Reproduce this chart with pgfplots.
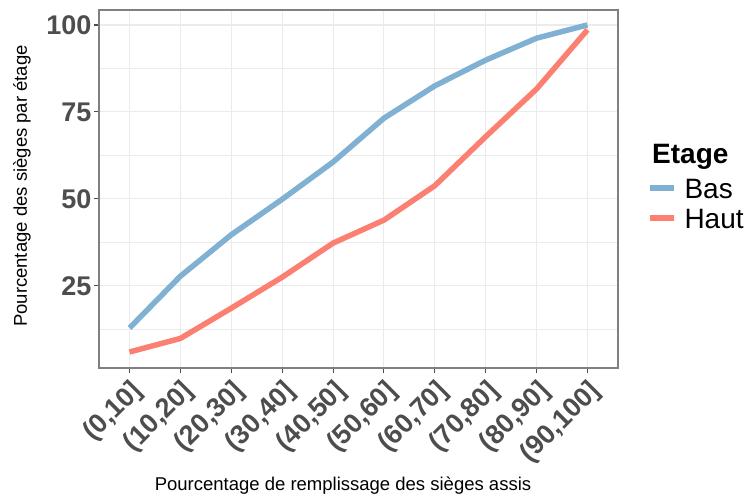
\documentclass[border=0pt]{standalone}
\usepackage{pgfplots}
\pgfplotsset{compat=1.18}
\usepackage{fontspec}
\setmainfont{Liberation Sans}
\definecolor{cBas}{HTML}{80B1D3}
\definecolor{cHaut}{HTML}{FB8072}
\definecolor{tickc}{HTML}{4D4D4D}
\definecolor{gridc}{HTML}{EBEBEB}
\definecolor{borderc}{HTML}{808080}
\begin{document}
\begin{tikzpicture}[x=1pt,y=1pt]
\useasboundingbox (0,0) rectangle (747,497);
\begin{axis}[
  at={(99pt,129pt)}, anchor=south west,
  scale only axis, width=519pt, height=358pt,
  xmin=-0.6, xmax=9.6, ymin=1.4, ymax=104.3,
  xtick={0,1,2,3,4,5,6,7,8,9},
  xticklabels={{(0,10]},{(10,20]},{(20,30]},{(30,40]},{(40,50]},{(50,60]},{(60,70]},{(70,80]},{(80,90]},{(90,100]}},
  ytick={25,50,75,100},
  yticklabels={25,50,75,100},
  minor ytick={12.5,37.5,62.5,87.5},
  grid=both,
  major grid style={draw=gridc, line width=1.1pt},
  minor grid style={draw=gridc, line width=0.6pt},
  minor tick length=0pt,
  major tick length=5pt,
  tick align=outside,
  xtick pos=bottom, ytick pos=left,
  axis line style={draw=borderc, line width=1.1pt},
  major tick style={draw=tickc, line width=1.1pt},
  ticklabel style={font=\bfseries\fontsize{27}{27}\selectfont, text=tickc},
  y tick label style={inner sep=2.5pt},
  x tick label style={rotate=45, anchor=north east, inner sep=1.5pt, xshift=-2pt, yshift=-2pt},
  legend style={at={(rel axis cs:1.0559,0.5307)}, anchor=north west, draw=none, fill=none,
    inner sep=0pt, outer sep=0pt,
    font=\fontsize{28}{28}\selectfont, row sep=10pt, column sep=8pt,
    nodes={inner sep=0pt, outer sep=0pt, text height=20pt, text depth=0pt}},
  legend cell align=left,
  legend image code/.code={\draw[#1, line cap=butt] (0pt,0pt) -- (24pt,0pt);},
]
\addplot[cBas, line width=5.5pt, line join=round, line cap=butt] coordinates {
 (0,12.9) (1,27.8) (2,39.7) (3,49.9) (4,60.6) (5,73.2) (6,82.5) (7,89.9) (8,96.2) (9,100)};
\addlegendentry{Bas}
\addplot[cHaut, line width=5.5pt, line join=round, line cap=butt] coordinates {
 (0,6.0) (1,9.9) (2,18.6) (3,27.5) (4,37.3) (5,43.9) (6,53.8) (7,67.9) (8,81.6) (9,98.6)};
\addlegendentry{Haut}
\end{axis}
\node[anchor=base, inner sep=0pt, font=\fontsize{18.5}{18.5}\selectfont] at (343,6) {Pourcentage de remplissage des sièges assis};
\node[rotate=90, inner sep=0pt, font=\fontsize{18.5}{18.5}\selectfont] at (22,311) {Pourcentage des sièges par étage};
\node[anchor=base west, inner sep=0pt, font=\bfseries\fontsize{28}{28}\selectfont] at (652,333) {Etage};
\end{tikzpicture}
\end{document}
